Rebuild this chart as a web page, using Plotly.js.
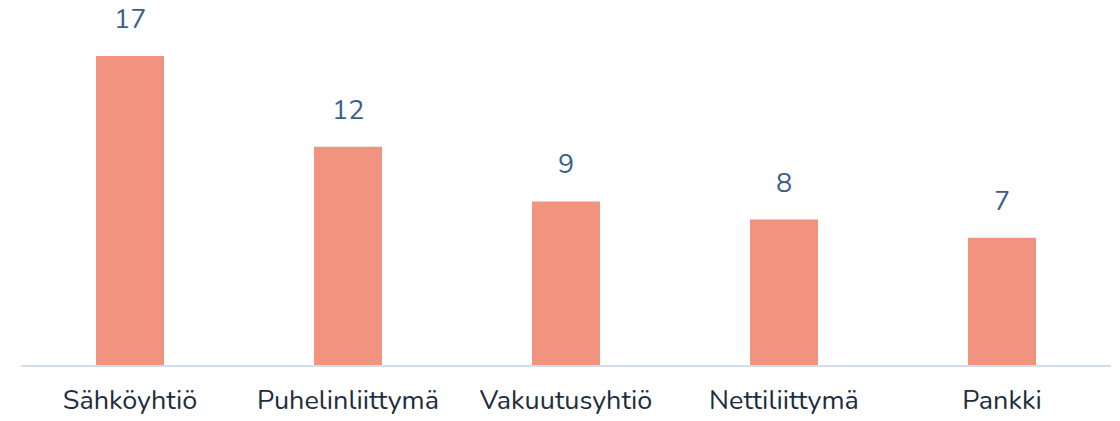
<!DOCTYPE html>
<html><head><meta charset="utf-8">
<script src="https://cdn.plot.ly/plotly-3.0.1.min.js"></script>
<style>html,body{margin:0;padding:0;background:#fff;}</style>
</head><body>
<div id="chart" style="width:1120px;height:421px;"></div>
<script>
const categories = ["Sähköyhtiö", "Puhelinliittymä", "Vakuutusyhtiö", "Nettiliittymä", "Pankki"];
const values = [17, 12, 9, 8, 7];

const trace = {
  type: 'bar',
  x: categories,
  y: values,
  marker: {color: '#F2937F'},
  width: 0.312,
  hoverinfo: 'none'
};
const annotations = categories.map((c, i) => ({
  x: c, y: values[i], xref: 'x', yref: 'y',
  text: String(values[i]), showarrow: false,
  yanchor: 'bottom', yshift: 16,
  font: {family: 'Nunito, "Open Sans", sans-serif', size: 27, color: '#3A5F8A'}
}));
const layout = {
  width: 1120, height: 421,
  margin: {l: 21, r: 9, t: 0, b: 56},
  paper_bgcolor: '#fff', plot_bgcolor: '#fff',
  showlegend: false,
  xaxis: {
    showgrid: false, zeroline: false, showline: true, linecolor: '#D3DEEC', linewidth: 2,
    ticks: '', ticklabelstandoff: 10,
    tickfont: {family: 'Nunito, "Open Sans", sans-serif', size: 27, color: '#1F2D3D'}
  },
  yaxis: {range: [0, 20.08], visible: false, showgrid: false, zeroline: false, fixedrange: true},
  annotations: annotations
};
Plotly.newPlot('chart', [trace], layout, {displayModeBar: false, staticPlot: true});
</script>
</body></html>
